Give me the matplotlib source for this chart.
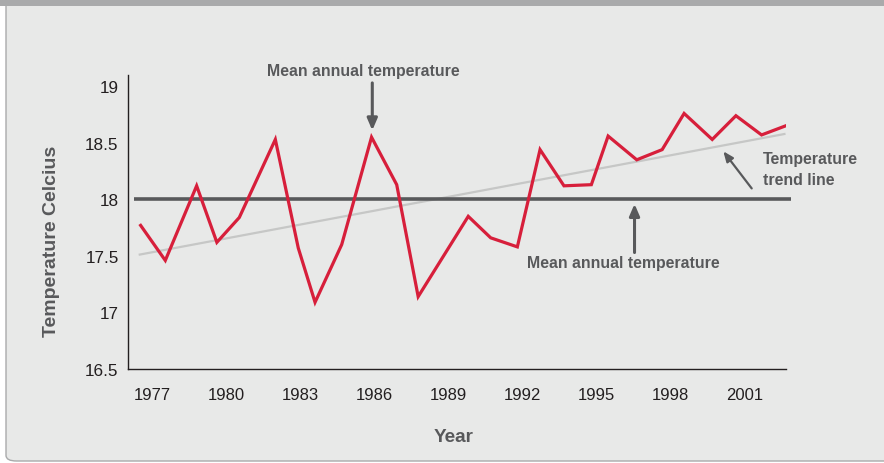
import matplotlib
matplotlib.use("Agg")
import matplotlib.pyplot as plt
from matplotlib.patches import FancyBboxPatch, Rectangle
from matplotlib import font_manager

# ---------------- data ----------------
years = [1976.53, 1977.53, 1978.80, 1979.62, 1980.53, 1981.99, 1982.92, 1983.60,
         1984.68, 1985.89, 1986.91, 1987.78, 1989.81, 1990.72, 1991.80, 1992.72,
         1993.69, 1994.80, 1995.48, 1996.64, 1997.67, 1998.56, 1999.70, 2000.66,
         2001.70, 2002.67]
temps = [17.77, 17.46, 18.12, 17.62, 17.84, 18.53, 17.57, 17.09,
         17.60, 18.55, 18.13, 17.14, 17.85, 17.66, 17.58, 18.44,
         18.12, 18.13, 18.56, 18.35, 18.44, 18.76, 18.53, 18.74,
         18.57, 18.65]
trend_years = [1976.45, 2002.67]
trend_temps = [17.51, 18.58]
mean_temp = 18.0
x_ticks = [1977, 1980, 1983, 1986, 1989, 1992, 1995, 1998, 2001]
y_ticks = [16.5, 17, 17.5, 18, 18.5, 19]
y_tick_labels = ["16.5", "17", "17.5", "18", "18.5", "19"]
annot_text = "Mean annual temperature"
trend_text = "Temperature\ntrend line"
x_label = "Year"
y_label = "Temperature Celcius"

# ---------------- fonts ----------------
FAM = ["Liberation Sans", "DejaVu Sans"]

GRAY = "#58595b"
PANEL = "#e8e9e8"

W, H = 884, 464
fig = plt.figure(figsize=(W / 100, H / 100), dpi=100, facecolor="white")

# background panel and header band
panel = FancyBboxPatch((6 / W, 2 / H), (W + 20) / W, (H - 2) / H,
                       boxstyle="round,pad=0,rounding_size=0.012",
                       transform=fig.transFigure, facecolor=PANEL,
                       edgecolor="#a9aaab", linewidth=1.0, zorder=-3)
fig.patches.append(panel)
band = Rectangle((0, 1 - 7 / H), 1, 7 / H, transform=fig.transFigure,
                 facecolor="#a9aaab", edgecolor="none", zorder=-2)
fig.patches.append(band)

ax = fig.add_axes([128.3 / W, 1 - 370 / H, (786 - 128.3) / W, (370 - 76) / H])
ax.set_facecolor("none")
ax.set_xlim(1976.03, 2002.69)
ax.set_ylim(16.5, 19.1)

for s in ["top", "right"]:
    ax.spines[s].set_visible(False)
for s in ["left", "bottom"]:
    ax.spines[s].set_color("#231f20")
    ax.spines[s].set_linewidth(1.0)

ax.set_xticks(x_ticks)
ax.set_xticklabels([str(v) for v in x_ticks], family=FAM, fontsize=12, color="#231f20")
ax.set_yticks(y_ticks)
ax.set_yticklabels(y_tick_labels, family=FAM, fontsize=12.3, color="#231f20")
ax.tick_params(axis="both", length=0)
ax.tick_params(axis="x", pad=13)
ax.tick_params(axis="y", pad=7)

# trend line, mean line, series
ax.plot(trend_years, trend_temps, color="#c6c7c6", lw=1.6, zorder=2, solid_capstyle="butt")
ax.plot([1976.25, 2002.9], [mean_temp, mean_temp], color="#58595b", lw=2.6,
        zorder=3, clip_on=False, solid_capstyle="butt")
ax.plot(years, temps, color="#d71f3b", lw=2.3, zorder=4, solid_joinstyle="miter")

# annotations
ax.annotate("", xy=(1985.92, 18.61), xytext=(1985.92, 19.03),
            arrowprops=dict(arrowstyle="-|>,head_length=0.7,head_width=0.3",
                            color=GRAY, lw=2.2, shrinkA=0, shrinkB=0),
            annotation_clip=False)
ax.text(1985.55, 19.14, annot_text, family=FAM, fontsize=11.4, fontweight="bold",
        color=GRAY, ha="center", va="center", clip_on=False)

ax.annotate("", xy=(1996.55, 17.96), xytext=(1996.55, 17.53),
            arrowprops=dict(arrowstyle="-|>,head_length=0.7,head_width=0.3",
                            color=GRAY, lw=2.2, shrinkA=0, shrinkB=0),
            annotation_clip=False)
ax.text(1996.1, 17.445, annot_text, family=FAM, fontsize=11.4, fontweight="bold",
        color=GRAY, ha="center", va="center")

ax.annotate("", xy=(2000.15, 18.425), xytext=(2001.30, 18.097),
            arrowprops=dict(arrowstyle="-|>,head_length=0.6,head_width=0.25",
                            color=GRAY, lw=1.6, shrinkA=0, shrinkB=0),
            annotation_clip=False)
ax.text(2001.77, 18.27, trend_text, family=FAM, fontsize=11.4, fontweight="bold",
        color=GRAY, ha="left", va="center", linespacing=1.45, clip_on=False)

# axis labels
fig.text(51.5 / W, 1 - 241 / H, y_label, family=FAM, fontsize=14, fontweight="bold",
         color=GRAY, rotation=90, ha="center", va="center")
fig.text(453.5 / W, 1 - 438 / H, x_label, family=FAM, fontsize=13.6, fontweight="bold",
         color=GRAY, ha="center", va="center")

fig.savefig("out.png", dpi=100, facecolor="white")
